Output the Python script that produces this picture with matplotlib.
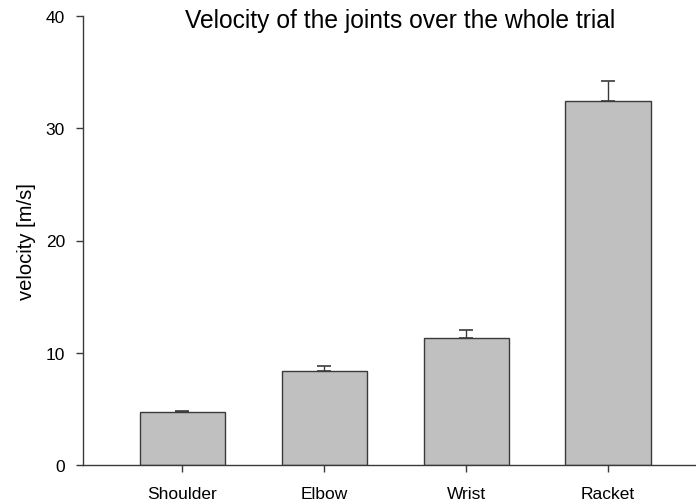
import numpy as np
import matplotlib
matplotlib.use("Agg")
from matplotlib import pyplot as plt

plt.rcParams['font.family'] = ['Liberation Sans', 'DejaVu Sans']

joints = ['Shoulder', 'Elbow', 'Wrist', 'Racket']
velocity = [4.75, 8.35, 11.35, 32.45]
velocity_err = [0.08, 0.47, 0.68, 1.72]

W, H = 696, 502
fig = plt.figure(figsize=(W / 100, H / 100), dpi=100)
ax = fig.add_axes([83 / W, (H - 466) / H, (W - 83) / W, (466 - 17) / H])

line_col = '#3a3a3a'
x = np.arange(len(joints))
ax.bar(x, velocity, width=0.6, color='#c0c0c0', edgecolor=line_col, linewidth=1.0, zorder=2)
ax.errorbar(x, velocity, yerr=[np.zeros(len(joints)), velocity_err], fmt='none',
            ecolor=line_col, elinewidth=1.0, capsize=4.7, capthick=1.2, zorder=3)

ax.set_xlim(-0.70, 3.62)
ax.set_ylim(0, 40)
ax.set_yticks([0, 10, 20, 30, 40])
ax.set_xticks(x)
ax.set_xticklabels(joints)
ax.tick_params(axis='both', direction='out', length=5, width=1.0, color=line_col,
               labelsize=12.5, pad=8)
ax.tick_params(axis='x', pad=10)

for side in ['top', 'right']:
    ax.spines[side].set_visible(False)
for side in ['left', 'bottom']:
    ax.spines[side].set_color(line_col)
    ax.spines[side].set_linewidth(1.0)

fig.text(26 / W, 1 - 242 / H, 'velocity [m/s]', rotation=90,
         ha='center', va='center', fontsize=14.5)
fig.text(400 / W, 1 - 21 / H, 'Velocity of the joints over the whole trial',
         ha='center', va='center', fontsize=17.7)

fig.savefig('out.png', dpi=100)
